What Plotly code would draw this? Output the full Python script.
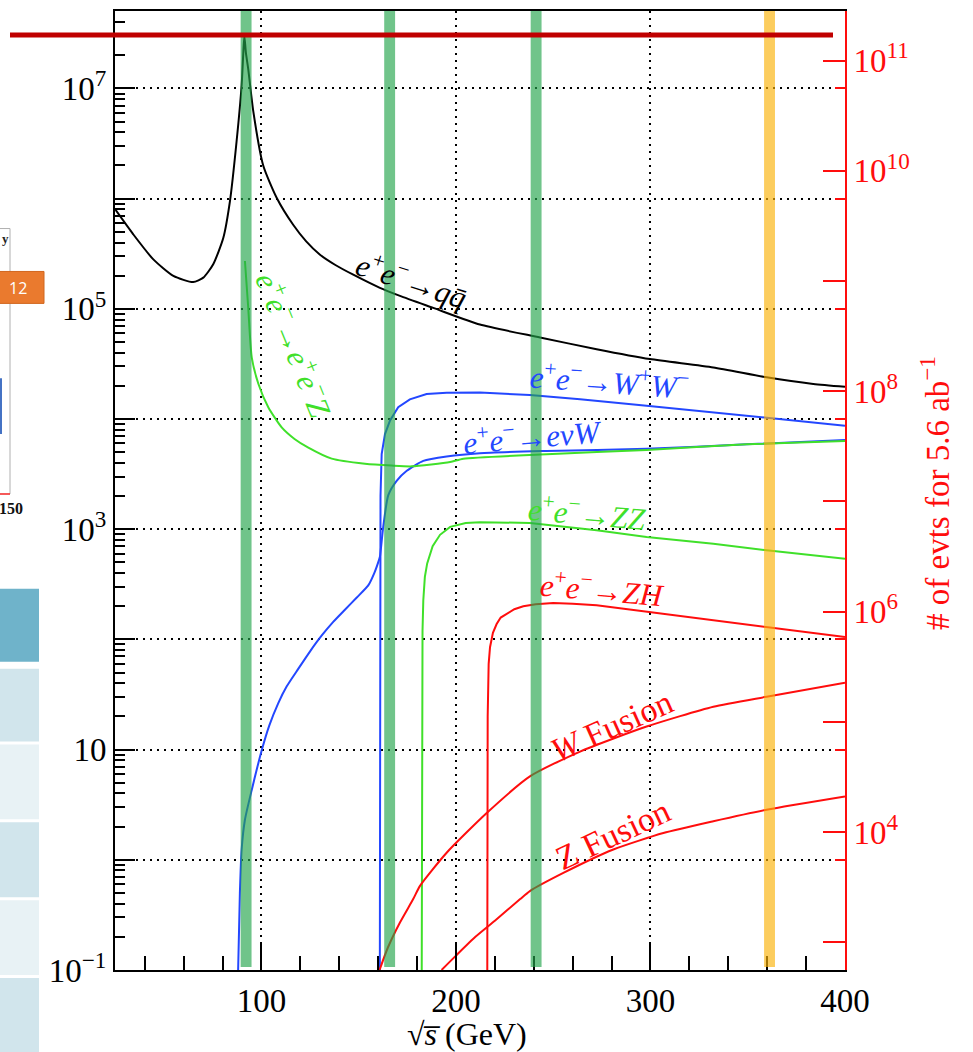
import plotly.graph_objects as go
import math

FONT = "Liberation Serif, Times New Roman, serif"

# ---------------- data (sqrt(s) in GeV, cross section in fb) ----------------
LUMI_FB = 5600.0   # 5.6 ab^-1 expressed in fb^-1 (right axis = sigma * L)

qq_x = [25.0, 34.1, 44.4, 54.7, 64.9, 70.1, 75.2, 80.4, 83.8, 87.2, 89.8, 90.6, 91.2, 92.0,
        93.2, 95.8, 100.9, 107.8, 116.3, 123.0, 130.1, 138.0, 147.2, 160.9, 171.2, 188.3, 212.3,
        243.2, 272.3, 299.7, 332.3, 359.7, 383.7, 400.0]
qq_y = [7.9e5, 4.74e5, 2.81e5, 1.99e5, 1.75e5, 1.92e5, 2.54e5, 4.42e5, 9.5e5, 3.3e6, 1.07e7,
        2.0e7, 3.0e7, 2.1e7, 1.5e7, 6.2e6, 2.0e6, 1.02e6, 5.8e5, 4.1e5, 3.1e5, 2.5e5, 2.04e5,
        1.55e5, 1.31e5, 1.02e5, 7.2e4, 5.5e4, 4.3e4, 3.5e4, 2.94e4, 2.39e4, 2.08e4, 1.96e4]

ww_x = [160.85, 160.9, 161.0, 161.2, 161.8, 163.5, 166.1, 170.3, 176.3, 184.9, 195.2, 212.3,
        238.0, 263.8, 298.0, 332.3, 359.7, 400.0]
ww_y = [0.1, 10, 300, 2000, 4800, 7300, 9700, 1.28e4, 1.51e4, 1.69e4, 1.73e4, 1.74e4,
        1.65e4, 1.51e4, 1.32e4, 1.15e4, 1.02e4, 8.7e3]

evw_x = [88.0, 88.9, 89.8, 91.5, 95.0, 100.1, 104.0, 108.6, 113.0, 118.9, 125.0, 130.9, 137.0,
         142.9, 149.0, 154.9, 158.0, 160.4, 160.9, 162.6, 165.2, 169.5, 174.7, 183.2, 195.2,
         212.3, 246.6, 298.0, 349.5, 400.0]
evw_y = [0.1, 0.5, 1.24, 2.31, 4.3, 9.8, 16.5, 26.3, 37.5, 54, 78, 108, 145,
         186, 240, 309, 400, 525, 562, 1050, 2040, 2750, 3390, 4170, 4570,
         4900, 5130, 5370, 5890, 6460]

eez_x = [91.5, 93.2, 95.0, 98.4, 103.5, 110.4, 117.0, 124.1, 136.1, 153.2, 166.9, 177.2, 197.0,
         203.8, 246.6, 298.0, 349.5, 400.0]
eez_y = [2.72e5, 1.02e5, 3.63e4, 2.09e4, 1.28e4, 8.4e3, 6.6e3, 5.5e3, 4.37e3, 3.93e3, 3.78e3,
         3.72e3, 4.07e3, 4.37e3, 4.79e3, 5.25e3, 5.89e3, 6.31e3]

zz_x = [182.4, 182.5, 182.8, 183.2, 184.0, 185.2, 188.0, 191.8, 197.0, 205.0, 212.3, 238.0,
        272.3, 298.0, 332.3, 359.7, 400.0]
zz_y = [0.1, 20, 120, 227, 370, 490, 700, 890, 1050, 1140, 1160, 1140,
        980, 850, 740, 645, 540]

zh_x = [216.1, 216.3, 216.8, 217.5, 219.0, 220.9, 223.0, 226.1, 230.0, 234.6, 241.0, 250.0,
        260.0, 272.3, 298.0, 332.3, 359.7, 400.0]
zh_y = [0.1, 20, 60, 85, 115, 138, 158, 172, 188, 200, 209, 214, 211, 204, 178, 150, 130, 105]

wfus_x = [160.7, 165.0, 171.2, 178.0, 181.5, 195.2, 215.8, 238.0, 263.8, 298.0, 332.3, 359.7, 400.0]
wfus_y = [0.1, 0.16, 0.27, 0.44, 0.58, 1.16, 2.66, 5.71, 9.6, 16.2, 24.5, 30.2, 40.5]

zfus_x = [192.6, 200.0, 210.0, 220.0, 233.0, 238.0, 255.2, 280.9, 306.6, 332.3, 359.7, 400.0]
zfus_y = [0.1, 0.135, 0.2, 0.28, 0.44, 0.52, 0.76, 1.24, 1.75, 2.24, 2.85, 3.76]

# run energies marked by bands (GeV)
green_bands = [92.1, 165.9, 241.2]
orange_bands = [361.2]

x_ticks = [100, 200, 300, 400]
left_labelled = [-1, 1, 3, 5, 7]        # exponents with a label on the left axis
left_unlabelled = [0, 2, 4, 6]
right_labelled = [4, 6, 8, 10, 11]      # exponents with a label on the right axis
right_unlabelled = [3, 5, 7, 9]

# ---------------- styles ----------------
BLACK = "#000000"
BLUE = "#2347ff"
GREEN = "#40e02a"
RED = "#ff0d0d"

XMIN, XMAX = 24.7, 400.0
YMIN, YMAX = -1.0, 7.703
LOGL = math.log10(LUMI_FB)

fig = go.Figure()

def curve(x, y, color, shape="linear", width=2):
    fig.add_trace(go.Scatter(x=x, y=y, mode="lines",
                             line=dict(color=color, width=width, shape=shape, smoothing=0.6),
                             showlegend=False, hoverinfo="skip"))

curve(qq_x, qq_y, BLACK, "spline")
curve(ww_x, ww_y, BLUE)
curve(evw_x, evw_y, BLUE, "spline")
curve(eez_x, eez_y, GREEN, "spline")
curve(zz_x, zz_y, GREEN)
curve(zh_x, zh_y, RED)
curve(wfus_x, wfus_y, RED, "spline")
curve(zfus_x, zfus_y, RED, "spline")

# dummy traces to activate the overlay axes
for ax in ["y2", "y3", "y4", "y5", "y6"]:
    fig.add_trace(go.Scatter(x=[None], y=[None], yaxis=ax, showlegend=False, hoverinfo="skip"))

def sup(e):
    if e == 1:
        return "10"
    s = str(e).replace("-", "\u2212")
    return f"10<sup>{s}</sup>"

minor_vals = [m * 10.0 ** e for e in range(-1, 8) for m in range(2, 10) if math.log10(m) + e < YMAX]

TICKSIZE = 33
tickfont = dict(family=FONT, size=TICKSIZE, color=BLACK)
grid = dict(showgrid=True, gridcolor=BLACK, gridwidth=2, griddash="2px,5px")

def overlay(side, vals, length, color, **kw):
    d = dict(type="log", range=[YMIN, YMAX], overlaying="y", side=side, anchor="x",
             tickvals=vals, ticks="inside", ticklen=length, tickwidth=1.5, tickcolor=color,
             showticklabels=False, showgrid=False, showline=False, zeroline=False)
    d.update(kw)
    return d

fig.update_layout(
    width=973, height=1052,
    margin=dict(l=115, r=128, t=9, b=82),
    paper_bgcolor="white", plot_bgcolor="white",
    xaxis=dict(range=[XMIN, XMAX], tickvals=x_ticks, ticks="inside", ticklen=28, tickwidth=1.5,
               tickcolor=BLACK, showline=True, linecolor=BLACK, linewidth=2, mirror=True,
               zeroline=False, tickfont=tickfont, **grid,
               minor=dict(dtick=20, tick0=0, ticks="inside", ticklen=14, tickwidth=1.5,
                          tickcolor=BLACK, showgrid=False)),
    yaxis=dict(type="log", range=[YMIN, YMAX], tickvals=[10.0 ** e for e in left_labelled],
               ticktext=[sup(e) for e in left_labelled],
               ticks="inside", ticklen=20, tickwidth=1.5, tickcolor=BLACK,
               showline=True, linecolor=BLACK, linewidth=2,
               zeroline=False, tickfont=tickfont, **grid),
    yaxis3=overlay("left", minor_vals, 10, BLACK),
    yaxis5=overlay("left", [10.0 ** e for e in left_unlabelled], 20, BLACK, **grid),
    yaxis4=overlay("right", [10.0 ** e for e in range(-1, 8)], 10, RED),
    yaxis6=overlay("right", [10.0 ** e for e in right_unlabelled], 22, RED,
                   range=[YMIN + LOGL, YMAX + LOGL]),
    yaxis2=dict(type="log", range=[YMIN + LOGL, YMAX + LOGL], overlaying="y", side="right",
                anchor="x", tickvals=[10.0 ** e for e in right_labelled],
                ticktext=[sup(e) for e in right_labelled],
                ticks="inside", ticklen=22, tickwidth=1.5, tickcolor=RED,
                showline=True, linecolor=RED, linewidth=2, showgrid=False, zeroline=False,
                tickfont=dict(family=FONT, size=TICKSIZE, color=RED)),
)

# ---------------- bands ----------------
BAND_HALF = 2.8
shapes = []
for c in green_bands:
    shapes.append(dict(type="rect", xref="x", yref="paper", x0=c - BAND_HALF, x1=c + BAND_HALF,
                       y0=0.003, y1=1, fillcolor="rgba(35,164,75,0.65)", line=dict(width=0),
                       layer="above"))
for c in orange_bands:
    shapes.append(dict(type="rect", xref="x", yref="paper", x0=c - BAND_HALF, x1=c + BAND_HALF,
                       y0=0.003, y1=1, fillcolor="rgba(251,178,8,0.65)", line=dict(width=0),
                       layer="above"))

# ---------------- slide fragments around the chart ----------------
def px(xp):   # page pixel -> paper x
    return (xp - 115) / 730.0
def py(yp):   # page pixel -> paper y
    return 1 - (yp - 9) / 961.0

shapes.append(dict(type="line", xref="paper", yref="paper", x0=px(10), x1=px(833),
                   y0=py(33), y1=py(33), line=dict(color="#c00000", width=5), layer="above"))
shapes.append(dict(type="rect", xref="paper", yref="paper", x0=px(-10), x1=px(10),
                   y0=py(493), y1=py(227), line=dict(color="#b0b0b0", width=1)))
shapes.append(dict(type="line", xref="paper", yref="paper", x0=px(0), x1=px(10),
                   y0=py(493), y1=py(493), line=dict(color="#ff3030", width=1.5)))
shapes.append(dict(type="rect", xref="paper", yref="paper", x0=px(-2), x1=px(2),
                   y0=py(433), y1=py(377), fillcolor="#4472c4", line=dict(width=0)))
shapes.append(dict(type="rect", xref="paper", yref="paper", x0=px(-2), x1=px(44),
                   y0=py(302), y1=py(270), fillcolor="#ea7a2e", line=dict(color="#d0661e", width=1)))
rows = [(588, 661, "#6fb3ca"), (668, 741, "#d1e5ec"), (744, 819, "#e8f2f5"),
        (822, 897, "#d1e5ec"), (900, 975, "#e8f2f5"), (978, 1060, "#d1e5ec")]
for a, b, col in rows:
    shapes.append(dict(type="rect", xref="paper", yref="paper", x0=px(-2), x1=px(39),
                       y0=py(b), y1=py(a), fillcolor=col, line=dict(width=0)))

fig.update_layout(shapes=shapes)

# ---------------- annotations ----------------
ann = []
def lab(text, x, ylog, angle, color, size=31):
    ann.append(dict(text=text, x=x, y=ylog, xref="x", yref="y", showarrow=False,
                    textangle=angle, font=dict(family=FONT, size=size, color=color),
                    xanchor="center", yanchor="middle"))

EE = "<i>e</i><sup>+</sup><i>e</i><sup>\u2212</sup>\u2192"
lab(EE + "<i>q</i><i>q\u0304</i>", 177.4, 5.27, 18, BLACK)
lab(EE + "<i>e</i><sup>+</sup><i>e</i><sup>\u2212</sup><i>Z</i>", 117.3, 4.68, 68, GREEN)
lab(EE + "<i>W</i><sup>+</sup><i>W</i><sup>\u2212</sup>", 278.7, 4.35, 4, BLUE)
lab(EE + "<i>e\u03bdW</i>", 239.6, 3.85, -5, BLUE)
lab(EE + "<i>ZZ</i>", 267.4, 3.15, 5, GREEN)
lab(EE + "<i>ZH</i>", 275.1, 2.46, 5, RED)
lab("<i>W</i> Fusion", 279.7, 1.21, -24, RED, 34)
lab("Z Fusion", 280.7, 0.23, -25, RED, 34)

ann.append(dict(text="\u221a<i>s\u0305</i> (GeV)",
                x=px(467), y=py(1034), xref="paper", yref="paper", showarrow=False,
                font=dict(family=FONT, size=32, color=BLACK), xanchor="center", yanchor="middle"))
ann.append(dict(text="# of evts for 5.6 ab<sup>\u22121</sup>", x=px(935), y=py(492),
                xref="paper", yref="paper", showarrow=False, textangle=-90,
                font=dict(family=FONT, size=33, color=RED), xanchor="center", yanchor="middle"))

ann.append(dict(text="<b>y</b>", x=px(11), y=py(237), xref="paper", yref="paper", showarrow=False,
                xanchor="right", yanchor="middle", font=dict(family=FONT, size=13, color="#222")))
ann.append(dict(text="12", x=px(18), y=py(287), xref="paper", yref="paper", showarrow=False,
                xanchor="center", yanchor="middle", font=dict(family="Open Sans", size=16, color="white")))
ann.append(dict(text="<b>150</b>", x=px(25), y=py(508), xref="paper", yref="paper", showarrow=False,
                xanchor="right", yanchor="middle", font=dict(family=FONT, size=16, color="#111")))

fig.update_layout(annotations=ann)

fig.write_html("out.html", config={"displayModeBar": False},
               post_script="document.body.style.margin='0px';")
